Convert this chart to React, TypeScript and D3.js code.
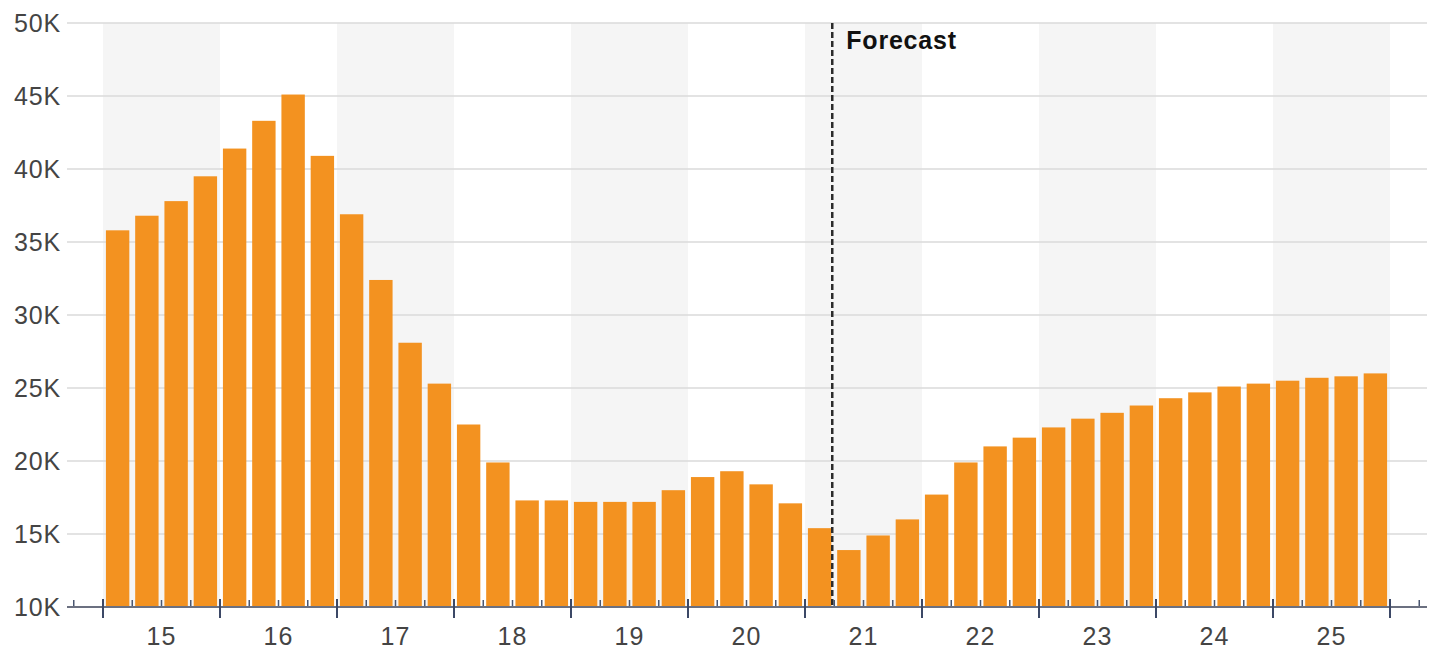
import { useMemo } from "react";
import * as d3 from "d3";

// data: quarterly values per year (2015-2025)
const YEARS = ["15", "16", "17", "18", "19", "20", "21", "22", "23", "24", "25"];
const QUARTERS = ["Q1", "Q2", "Q3", "Q4"];
const VALUES = [
  35800, 36800, 37800, 39500,
  41400, 43300, 45100, 40900,
  36900, 32400, 28100, 25300,
  22500, 19900, 17300, 17300,
  17200, 17200, 17200, 18000,
  18900, 19300, 18400, 17100,
  15400, 13900, 14900, 16000,
  17700, 19900, 21000, 21600,
  22300, 22900, 23300, 23800,
  24300, 24700, 25100, 25300,
  25500, 25700, 25800, 26000,
];
const Y_TICKS = [10000, 15000, 20000, 25000, 30000, 35000, 40000, 45000, 50000];
const FORECAST_START = 25; // index of first forecast bar

const W = 1436;
const H = 654;
const FONT = "'Liberation Sans', Arial, Helvetica, sans-serif";
const BAR = "#F39220";

export default function App() {
  const keys = useMemo(
    () => YEARS.flatMap((y) => QUARTERS.map((q) => `${y}-${q}`)),
    [],
  );

  // scales
  const x = d3
    .scaleBand<string>()
    .domain(keys)
    .range([103, 1390])
    .paddingInner(0.2)
    .paddingOuter(0.1);
  const y = d3.scaleLinear().domain([10000, 50000]).range([607, 23]);

  const step = x.step();
  const boundary = (i: number) => 103 + i * step;
  const y0 = y(10000);

  const quarterTicks = d3.range(-1, keys.length + 2).filter((i) => i % 4 !== 0);
  const yearTicks = d3.range(0, keys.length + 1, 4);
  const fmt = (v: number) => `${v / 1000}K`;

  return (
    <svg
      width={W}
      height={H}
      style={{ position: "absolute", left: 0, top: 0, background: "#fff" }}
      fontFamily={FONT}
    >
      {/* alternating year bands */}
      {YEARS.map((yr, i) =>
        i % 2 === 0 ? (
          <rect
            key={yr}
            x={boundary(i * 4)}
            y={y(50000)}
            width={boundary(i * 4 + 4) - boundary(i * 4)}
            height={y0 - y(50000)}
            fill="#f5f5f5"
          />
        ) : null,
      )}

      {/* grid */}
      {Y_TICKS.filter((t) => t > 10000).map((t) => (
        <line
          key={t}
          x1={67}
          x2={1427}
          y1={y(t)}
          y2={y(t)}
          stroke="#dadada"
          strokeWidth={1.5}
        />
      ))}

      {/* quarter ticks sit behind the bars */}
      {quarterTicks.map((i) => (
        <line
          key={`q${i}`}
          x1={boundary(i)}
          x2={boundary(i)}
          y1={y0 - 7}
          y2={y0}
          stroke="#4a5670"
          strokeWidth={1.5}
        />
      ))}

      {/* bars */}
      {VALUES.map((v, i) => (
        <rect
          key={keys[i]}
          x={x(keys[i])}
          y={y(v)}
          width={x.bandwidth()}
          height={y0 - y(v)}
          fill={BAR}
        />
      ))}

      {/* forecast marker */}
      <line
        x1={boundary(FORECAST_START) - 2}
        x2={boundary(FORECAST_START) - 2}
        y1={y(50000)}
        y2={y0}
        stroke="#2b2b2b"
        strokeWidth={2.5}
        strokeDasharray="6,3"
      />
      <text
        x={boundary(FORECAST_START) + 12}
        y={49}
        fontSize={25}
        fontWeight="bold"
        fill="#111"
        letterSpacing={0.8}
      >
        Forecast
      </text>

      {/* x axis */}
      <line x1={67} x2={1427} y1={y0} y2={y0} stroke="#6b7080" strokeWidth={2} />
      {yearTicks.map((i) => (
        <line
          key={`y${i}`}
          x1={boundary(i)}
          x2={boundary(i)}
          y1={y0 - 8}
          y2={y0 + 11}
          stroke="#3c4866"
          strokeWidth={2}
        />
      ))}
      {YEARS.map((yr, i) => (
        <text
          key={yr}
          x={(boundary(i * 4) + boundary(i * 4 + 4)) / 2}
          y={645}
          textAnchor="middle"
          fontSize={25}
          fill="#444"
          letterSpacing={1}
        >
          {yr}
        </text>
      ))}

      {/* y labels */}
      {Y_TICKS.map((t) => (
        <text
          key={t}
          x={61}
          y={y(t)}
          dy="0.35em"
          textAnchor="end"
          fontSize={25}
          fill="#444"
          letterSpacing={0.8}
        >
          {fmt(t)}
        </text>
      ))}
    </svg>
  );
}
